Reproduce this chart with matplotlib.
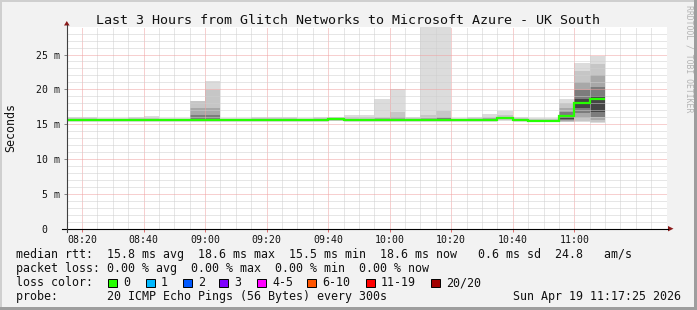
import matplotlib
matplotlib.use("Agg")
import matplotlib.pyplot as plt
from matplotlib.patches import Rectangle, Polygon
from matplotlib.lines import Line2D

W, H, DPI = 697, 310, 100
MONO = "DejaVu Sans Mono"

# ---------------- data ----------------
title = "Last 3 Hours from Glitch Networks to Microsoft Azure - UK South"
view_start = "08:17:25"
view_end = "11:17:25"
step_minutes = 5

interval_start = ["08:15", "08:20", "08:25", "08:30", "08:35", "08:40", "08:45",
                  "08:50", "08:55", "09:00", "09:05", "09:10", "09:15", "09:20",
                  "09:25", "09:30", "09:35", "09:40", "09:45", "09:50", "09:55",
                  "10:00", "10:05", "10:10", "10:15", "10:20", "10:25", "10:30",
                  "10:35", "10:40", "10:45", "10:50", "10:55", "11:00", "11:05"]

median_ms = [15.65, 15.65, 15.65, 15.65, 15.65, 15.65, 15.65, 15.65, 15.65, 15.65,
             15.65, 15.65, 15.65, 15.65, 15.65, 15.65, 15.65, 15.70, 15.65, 15.65,
             15.65, 15.65, 15.65, 15.65, 15.65, 15.65, 15.65, 15.65, 15.85, 15.60,
             15.50, 15.50, 16.15, 18.08, 18.65]

# smoke bands (ms): outermost (1) to innermost (5), upper edges
smoke_hi1 = [16.10, 16.10, 15.90, 15.90, 16.05, 16.20, 15.95, 15.95, 18.30, 21.20,
             15.90, 15.90, 16.10, 16.00, 16.00, 15.90, 16.00, 16.10, 16.30, 16.30,
             18.60, 20.10, 16.05, 28.90, 28.90, 15.90, 16.00, 16.50, 16.90, 16.10,
             15.90, 15.90, 18.60, 23.80, 24.80]
smoke_hi2 = [15.85, 15.85, 15.80, 15.80, 15.85, 15.90, 15.80, 15.80, 18.30, 19.90,
             15.80, 15.80, 15.85, 15.85, 15.85, 15.80, 15.85, 16.05, 16.00, 16.00,
             16.10, 16.80, 15.85, 16.30, 16.95, 15.80, 15.85, 16.10, 16.35, 15.85,
             15.75, 15.75, 18.00, 22.60, 23.60]
smoke_hi3 = [15.78, 15.78, 15.78, 15.78, 15.78, 15.78, 15.78, 15.78, 17.30, 17.30,
             15.78, 15.78, 15.78, 15.78, 15.78, 15.78, 15.78, 15.95, 15.78, 15.78,
             15.85, 16.00, 15.78, 15.90, 16.10, 15.78, 15.78, 15.85, 16.05, 15.75,
             15.65, 15.65, 17.30, 21.10, 22.00]
smoke_hi4 = [15.72, 15.72, 15.72, 15.72, 15.72, 15.72, 15.72, 15.72, 16.30, 16.30,
             15.72, 15.72, 15.72, 15.72, 15.72, 15.72, 15.72, 15.85, 15.72, 15.72,
             15.72, 15.80, 15.72, 15.72, 15.85, 15.72, 15.72, 15.72, 15.95, 15.68,
             15.60, 15.60, 16.80, 19.90, 20.30]
smoke_hi5 = [15.68, 15.68, 15.68, 15.68, 15.68, 15.68, 15.68, 15.68, 15.75, 15.75,
             15.68, 15.68, 15.68, 15.68, 15.68, 15.68, 15.68, 15.78, 15.68, 15.68,
             15.68, 15.68, 15.68, 15.68, 15.68, 15.68, 15.68, 15.68, 15.90, 15.64,
             15.54, 15.54, 16.35, 18.60, 19.10]
# lower edges
smoke_lo5 = [15.61, 15.61, 15.61, 15.61, 15.61, 15.61, 15.61, 15.61, 15.61, 15.61,
             15.61, 15.61, 15.61, 15.61, 15.61, 15.61, 15.61, 15.66, 15.61, 15.61,
             15.61, 15.61, 15.61, 15.61, 15.61, 15.61, 15.61, 15.61, 15.80, 15.56,
             15.46, 15.46, 15.80, 17.30, 16.80]
smoke_lo4 = [15.57, 15.57, 15.57, 15.57, 15.57, 15.57, 15.57, 15.57, 15.57, 15.57,
             15.57, 15.57, 15.57, 15.57, 15.57, 15.57, 15.57, 15.62, 15.57, 15.57,
             15.57, 15.57, 15.57, 15.57, 15.57, 15.57, 15.57, 15.57, 15.75, 15.52,
             15.42, 15.42, 15.60, 16.60, 16.10]
smoke_lo3 = [15.52, 15.52, 15.52, 15.52, 15.52, 15.52, 15.52, 15.52, 15.52, 15.52,
             15.52, 15.52, 15.52, 15.52, 15.52, 15.52, 15.52, 15.57, 15.52, 15.52,
             15.52, 15.52, 15.52, 15.52, 15.52, 15.52, 15.52, 15.52, 15.70, 15.48,
             15.38, 15.38, 15.45, 15.90, 15.60]
smoke_lo2 = [15.45, 15.45, 15.45, 15.45, 15.45, 15.45, 15.45, 15.45, 15.45, 15.45,
             15.45, 15.45, 15.45, 15.45, 15.45, 15.45, 15.45, 15.50, 15.45, 15.45,
             15.45, 15.45, 15.45, 15.45, 15.45, 15.45, 15.45, 15.45, 15.60, 15.42,
             15.33, 15.33, 15.40, 15.50, 15.30]
smoke_lo1 = [15.38, 15.38, 15.38, 15.38, 15.38, 15.38, 15.38, 15.38, 15.38, 15.38,
             15.38, 15.38, 15.38, 15.38, 15.38, 15.38, 15.38, 15.42, 15.38, 15.38,
             15.38, 15.38, 15.38, 15.38, 15.38, 15.38, 15.38, 15.38, 15.50, 15.35,
             15.28, 15.28, 15.35, 15.35, 15.20]
smoke_colors = ["#dcdcdc", "#c6c6c6", "#a8a8a8", "#7c7c7c", "#454545"]

xtick_labels = ["08:20", "08:40", "09:00", "09:20", "09:40", "10:00", "10:20", "10:40", "11:00"]
ytick_values = [0, 5, 10, 15, 20, 25]
ytick_labels = ["0  ", "5 m", "10 m", "15 m", "20 m", "25 m"]
y_max = 28.94

legend_rtt = "median rtt:  15.8 ms avg  18.6 ms max  15.5 ms min  18.6 ms now   0.6 ms sd  24.8   am/s"
legend_loss = "packet loss: 0.00 % avg  0.00 % max  0.00 % min  0.00 % now"
legend_probe = "probe:       20 ICMP Echo Pings (56 Bytes) every 300s"
timestamp = "Sun Apr 19 11:17:25 2026"
loss_labels = ["0", "1", "2", "3", "4-5", "6-10", "11-19", "20/20"]
loss_colors = ["#26ff00", "#00b8ff", "#0059ff", "#7e00ff", "#ff00ff", "#ff5500", "#ff0000", "#a10000"]
median_color = "#26ff00"


def to_min(s):
    parts = [int(p) for p in s.split(":")]
    while len(parts) < 3:
        parts.append(0)
    return (parts[0] - 8) * 60 + parts[1] + parts[2] / 60.0


def fx(x):
    return x / W


def fy(y):
    return 1 - y / H


fig = plt.figure(figsize=(W / DPI, H / DPI), dpi=DPI, facecolor="#f2f2f2")

# 3D-ish frame
fig.add_artist(Rectangle((0, fy(2)), 1, 2 / H, transform=fig.transFigure, color="#cfcfcf", lw=0))
fig.add_artist(Rectangle((0, 0), 2 / W, 1, transform=fig.transFigure, color="#cfcfcf", lw=0))
fig.add_artist(Rectangle((0, 0), 1, 3 / H, transform=fig.transFigure, color="#9e9e9e", lw=0))
fig.add_artist(Rectangle((fx(W - 3), 0), 3 / W, 1, transform=fig.transFigure, color="#9e9e9e", lw=0))

left_px, right_px, bottom_px, top_px = 66.6, 666.6, 229, 27
ax = fig.add_axes([fx(left_px), fy(bottom_px), (right_px - left_px) / W, (bottom_px - top_px) / H])
ax.set_facecolor("white")
ax.set_xlim(to_min(view_start), to_min(view_end))
ax.set_ylim(0, y_max)

starts = [to_min(s) for s in interval_start]
his = [smoke_hi1, smoke_hi2, smoke_hi3, smoke_hi4, smoke_hi5]
los = [smoke_lo1, smoke_lo2, smoke_lo3, smoke_lo4, smoke_lo5]
for k, (hi, lo, col) in enumerate(zip(his, los, smoke_colors)):
    ax.bar(starts, [h - l for h, l in zip(hi, lo)], bottom=lo, width=step_minutes,
           align="edge", color=col, linewidth=0, zorder=1 + k * 0.01)

edges = starts + [starts[-1] + step_minutes]
ax.stairs(median_ms, edges, baseline=None, color=median_color, lw=1.6, zorder=3)

# grid
major_x = [to_min(t) for t in xtick_labels]
all_x = [to_min(interval_start[0]) + step_minutes * i for i in range(40)]
minor_x = [v for v in all_x if all(abs(v - m) > 0.01 for m in major_x)]
minor_y = [v for v in range(0, 29) if v % 5 != 0]
ax.set_xticks(major_x)
ax.set_xticklabels(xtick_labels, family=MONO, fontsize=7.1)
ax.set_xticks(minor_x, minor=True)
ax.set_yticks(ytick_values)
ax.set_yticklabels(ytick_labels, family=MONO, fontsize=7.1)
ax.set_yticks(minor_y, minor=True)
ax.set_axisbelow(False)
ax.grid(which="minor", color="#cfcfcf", lw=0.72, ls=(0, (1, 1)))
ax.grid(which="major", color="#f0a0a0", lw=0.72, ls=(0, (1, 1)))
ax.tick_params(which="minor", length=0)
ax.tick_params(axis="x", which="major", length=2, width=0.72, color="#e07070", pad=2.5, labelcolor="#111111")
ax.tick_params(axis="y", which="major", length=2.2, width=0.72, color="#888888", pad=2.2, labelcolor="#111111")
for s in ax.spines.values():
    s.set_visible(False)

# axes lines and arrows
fig.add_artist(Line2D([fx(62), fx(668)], [fy(228.7), fy(228.7)], transform=fig.transFigure, color="black", lw=0.8))
fig.add_artist(Line2D([fx(66.8), fx(66.8)], [fy(232), fy(25)], transform=fig.transFigure, color="#404040", lw=0.8))
fig.add_artist(Polygon([[fx(64), fy(25.5)], [fx(69.6), fy(25.5)], [fx(66.8), fy(21)]], closed=True,
                       transform=fig.transFigure, color="#8b1a1a", lw=0))
fig.add_artist(Polygon([[fx(668), fy(226)], [fx(668), fy(231.4)], [fx(673.5), fy(228.7)]], closed=True,
                       transform=fig.transFigure, color="#8b1a1a", lw=0))

# texts
fig.text(fx(348.5), fy(23.5), title, family=MONO, fontsize=9.6, ha="center", va="baseline", color="#111111")
fig.text(fx(10.7), fy(127.5), "Seconds", family=MONO, fontsize=8.4, rotation=90, ha="center", va="center", color="#111111")
fig.text(fx(688.5), fy(5), "RRDTOOL / TOBI OETIKER", family=MONO, fontsize=5.9, rotation=270,
         ha="center", va="top", color="#b4b4b4")

fig.text(fx(16), fy(258), legend_rtt, family=MONO, fontsize=8.4, va="baseline", color="#111111")
fig.text(fx(16), fy(272), legend_loss, family=MONO, fontsize=8.4, va="baseline", color="#111111")
fig.text(fx(16), fy(286), "loss color:", family=MONO, fontsize=8.4, va="baseline", color="#111111")
fig.text(fx(16), fy(300), legend_probe, family=MONO, fontsize=8.4, va="baseline", color="#111111")
fig.text(fx(681), fy(300), timestamp, family=MONO, fontsize=8.4, va="baseline", ha="right", color="#111111")

box_x = [108, 146, 183, 219, 257, 307, 366, 431]
for bx, lab, col in zip(box_x, loss_labels, loss_colors):
    fig.add_artist(Rectangle((fx(bx), fy(287)), 8.5 / W, 8.5 / H, transform=fig.transFigure,
                             facecolor=col, edgecolor="black", lw=0.7))
    fig.text(fx(bx + 15), fy(286), lab, family=MONO, fontsize=8.4, va="baseline", color="#111111")

fig.savefig("out.png", dpi=DPI, facecolor=fig.get_facecolor())
